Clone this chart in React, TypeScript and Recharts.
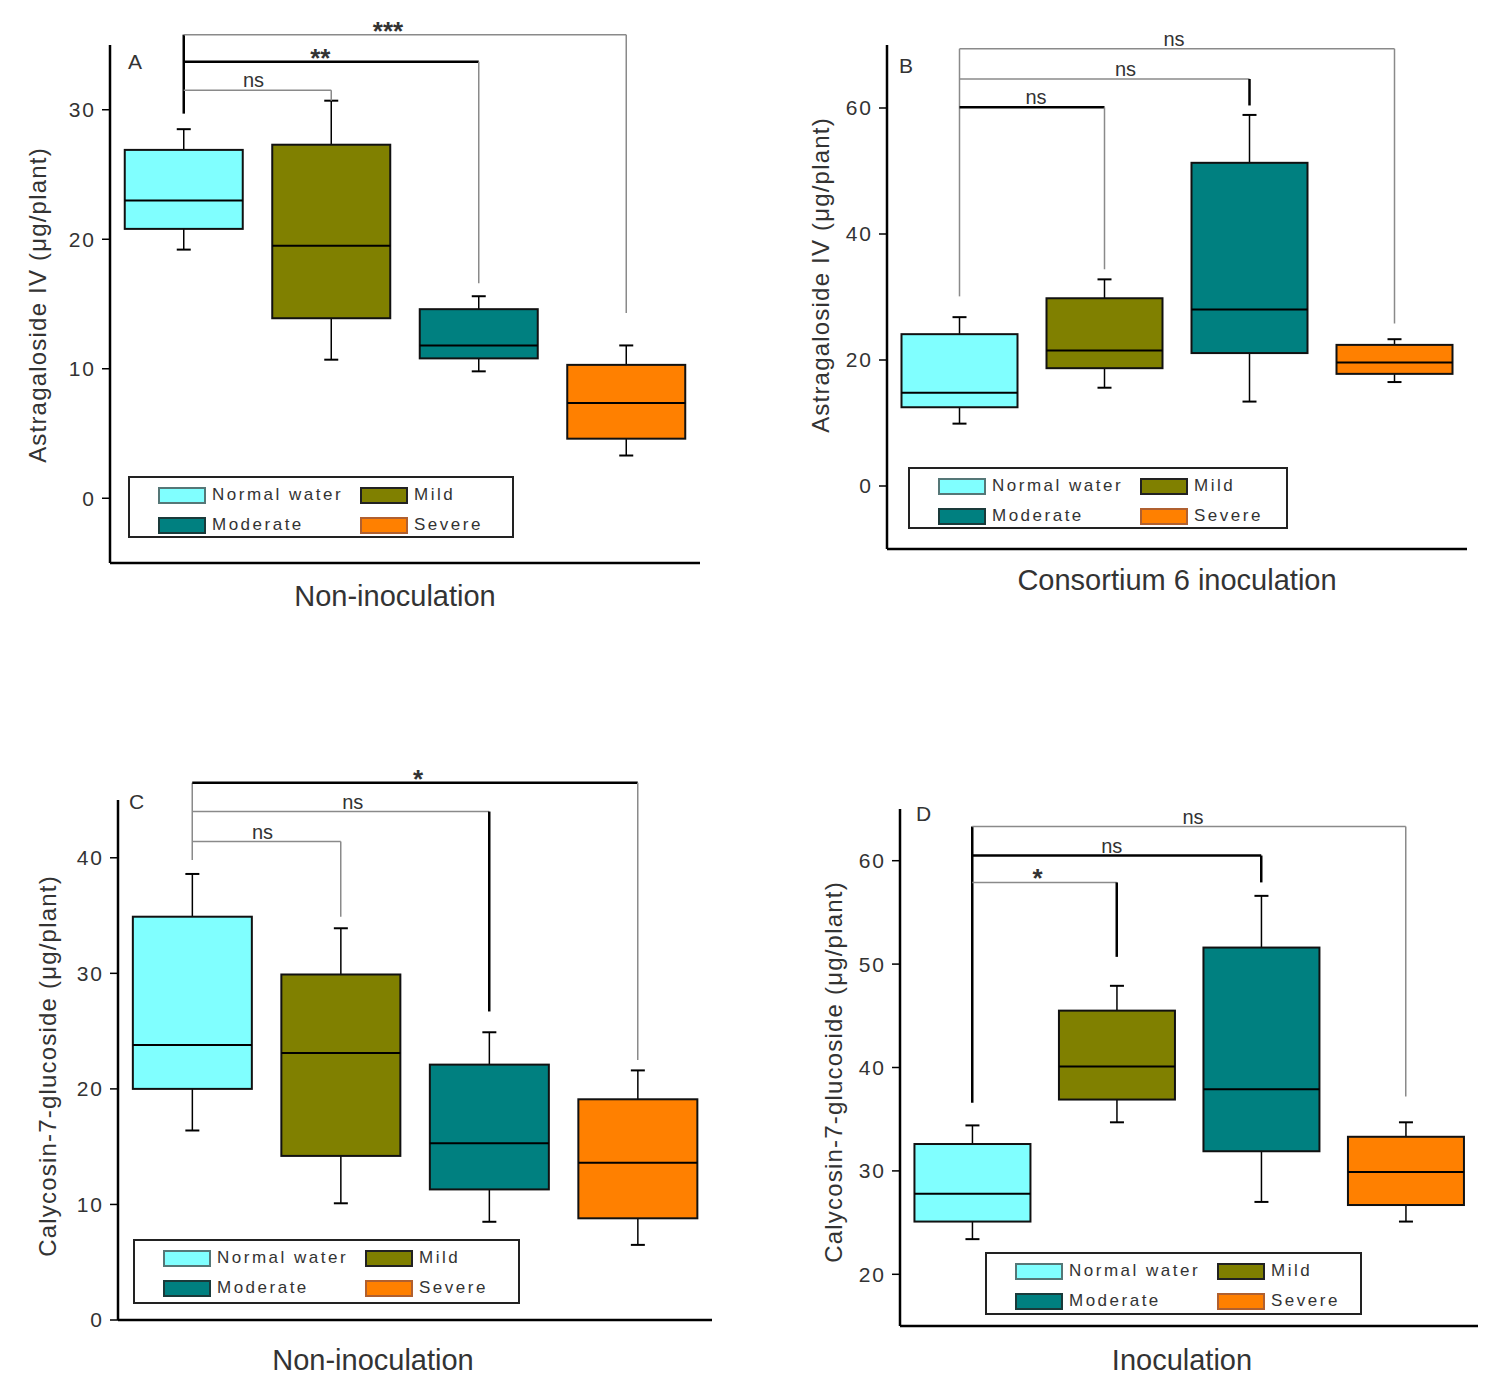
import React from 'react';
import { ComposedChart, Bar, XAxis, YAxis, ReferenceLine, Legend } from 'recharts';

const GROUPS = ['Normal water', 'Mild', 'Moderate', 'Severe'];
const FILLS = ['#80FFFF', '#808000', '#008080', '#FF8000'];
const SWATCH_EDGE = ['#557777', '#222222', '#1a3a3a', '#b06030'];

// [min, Q1, median, Q3, max] for each group
const astraNonInoc = [
  [19.2, 20.8, 23.0, 26.9, 28.5],
  [10.7, 13.9, 19.5, 27.3, 30.7],
  [9.8, 10.8, 11.8, 14.6, 15.6],
  [3.3, 4.6, 7.35, 10.3, 11.8],
];
const astraConsortium = [
  [9.9, 12.5, 14.8, 24.1, 26.8],
  [15.6, 18.7, 21.5, 29.8, 32.8],
  [13.4, 21.1, 28.0, 51.3, 58.9],
  [16.5, 17.8, 19.6, 22.4, 23.3],
];
const calyNonInoc = [
  [16.4, 20.0, 23.8, 34.9, 38.6],
  [10.1, 14.2, 23.1, 29.9, 33.9],
  [8.5, 11.3, 15.3, 22.1, 24.9],
  [6.5, 8.8, 13.6, 19.1, 21.6],
];
const calyInoc = [
  [23.4, 25.1, 27.8, 32.6, 34.4],
  [34.7, 36.9, 40.1, 45.5, 47.9],
  [27.0, 31.9, 37.9, 51.6, 56.6],
  [25.1, 26.7, 29.9, 33.3, 34.7],
];

// significance brackets from Normal water: [target group, bracket height, drop end, label]
const astraNonInocSig: [number, number, number, string][] = [[1, 31.5, 30.7, 'ns'], [2, 33.7, 16.6, '**'], [3, 35.8, 14.3, '***']];
const astraConsortiumSig: [number, number, number, string][] = [[1, 60.1, 34.4, 'ns'], [2, 64.6, 60.4, 'ns'], [3, 69.4, 25.8, 'ns']];
const calyNonInocSig: [number, number, number, string][] = [[1, 41.4, 34.9, 'ns'], [2, 44.0, 26.7, 'ns'], [3, 46.5, 22.5, '*']];
const calyInocSig: [number, number, number, string][] = [[1, 57.9, 50.7, '*'], [2, 60.5, 57.9, 'ns'], [3, 63.3, 37.2, 'ns']];
// lower end of the stem above Normal water
const sigStems = [29.7, 30.1, 39.8, 36.6];

const Y_W = 70;
const X_H = 40;
const FONT = '"Liberation Sans", Arial, sans-serif';
const BOLD = { stroke: '#000', strokeWidth: 2.5 };
const THIN = { stroke: '#8a8a8a', strokeWidth: 1.5 };

const PANELS = [
  {
    letter: 'A', stats: astraNonInoc, sig: astraNonInocSig, stem: sigStems[0],
    domain: [-5, 35], ticks: [0, 10, 20, 30],
    yTitle: 'Astragaloside IV (μg/plant)', xTitle: 'Non-inoculation',
    box: { left: 0, top: 0, w: 730, h: 630 }, plot: { l: 110, t: 45, r: 700, b: 563 },
    yt: [37, 305], xt: [395, 596], lg: { x: 128, y: 476, w: 386, h: 62 }, lt: [128, 51],
    stemBold: true, hBold: [false, true, false], dBold: [false, false, false], labelDx: [-4, -11, -17],
  },
  {
    letter: 'B', stats: astraConsortium, sig: astraConsortiumSig, stem: sigStems[1],
    domain: [-10, 70], ticks: [0, 20, 40, 60],
    yTitle: 'Astragaloside IV (μg/plant)', xTitle: 'Consortium 6 inoculation',
    box: { left: 760, top: 0, w: 729, h: 620 }, plot: { l: 887, t: 45, r: 1467, b: 549 },
    yt: [60, 275], xt: [417, 580], lg: { x: 148, y: 467, w: 380, h: 62 }, lt: [139, 55],
    stemBold: false, hBold: [true, false, false], dBold: [false, true, false], labelDx: [4, 21, -3],
  },
  {
    letter: 'C', stats: calyNonInoc, sig: calyNonInocSig, stem: sigStems[2],
    domain: [0, 45], ticks: [0, 10, 20, 30, 40],
    yTitle: 'Calycosin-7-glucoside (μg/plant)', xTitle: 'Non-inoculation',
    box: { left: 0, top: 740, w: 740, h: 645 }, plot: { l: 118, t: 800, r: 712, b: 1320 },
    yt: [47, 326], xt: [373, 620], lg: { x: 133, y: 499, w: 387, h: 65 }, lt: [129, 51],
    stemBold: false, hBold: [false, false, true], dBold: [false, true, false], labelDx: [-4, 12, 3],
  },
  {
    letter: 'D', stats: calyInoc, sig: calyInocSig, stem: sigStems[3],
    domain: [15, 65], ticks: [20, 30, 40, 50, 60],
    yTitle: 'Calycosin-7-glucoside (μg/plant)', xTitle: 'Inoculation',
    box: { left: 760, top: 760, w: 729, h: 625 }, plot: { l: 900, t: 809, r: 1478, b: 1326 },
    yt: [73, 312], xt: [422, 600], lg: { x: 225, y: 492, w: 377, h: 63 }, lt: [156, 43],
    stemBold: true, hBold: [false, true, false], dBold: [true, true, false], labelDx: [-7, -5, 4],
  },
];

// the bar spans min..max; the quartiles are placed inside it on the same linear scale
const BoxShape = (props: any) => {
  const { x, y, width, height, payload } = props;
  const [lo, q1, med, q3, hi] = payload.stats;
  const top = Math.min(y, y + height);
  const bot = Math.max(y, y + height);
  const py = (v: number) => bot - ((v - lo) / (hi - lo)) * (bot - top);
  const cx = x + width / 2;
  const cap = 7;
  return (
    <g>
      <line x1={cx} x2={cx} y1={py(hi)} y2={py(q3)} stroke="#000" strokeWidth={1.5} />
      <line x1={cx} x2={cx} y1={py(q1)} y2={py(lo)} stroke="#000" strokeWidth={1.5} />
      <line x1={cx - cap} x2={cx + cap} y1={py(hi)} y2={py(hi)} stroke="#000" strokeWidth={2} />
      <line x1={cx - cap} x2={cx + cap} y1={py(lo)} y2={py(lo)} stroke="#000" strokeWidth={2} />
      <rect x={x} y={py(q3)} width={width} height={py(q1) - py(q3)} fill={payload.fill} stroke="#111" strokeWidth={2} />
      <line x1={x} x2={x + width} y1={py(med)} y2={py(med)} stroke="#000" strokeWidth={2} />
    </g>
  );
};

const LegendBox = ({ w, h }: { w: number; h: number }) => (
  <div style={{ width: w, height: h, border: '2px solid #222', boxSizing: 'border-box', position: 'relative', background: '#fff', fontFamily: FONT }}>
    {GROUPS.map((g, i) => (
      <div key={g} style={{ position: 'absolute', left: i % 2 === 0 ? 28 : 230, top: i < 2 ? 8 : 38, display: 'flex', alignItems: 'center' }}>
        <div style={{ width: 48, height: 17, background: FILLS[i], border: `2px solid ${SWATCH_EDGE[i]}`, boxSizing: 'border-box' }} />
        <span style={{ marginLeft: 6, fontSize: 17, letterSpacing: 2.5, color: '#333', lineHeight: '18px' }}>{g}</span>
      </div>
    ))}
  </div>
);

const sigLabel = (text: string, dx: number) => {
  const star = text.includes('*');
  return {
    value: text,
    position: 'top' as const,
    offset: star ? -5 : 3,
    dx,
    fill: '#333',
    fontSize: star ? 26 : 20,
    fontWeight: star ? 'bold' : 'normal',
    fontFamily: FONT,
  };
};

const Panel = ({ cfg }: { cfg: any }) => {
  const data = GROUPS.map((g, i) => ({
    name: g,
    range: [cfg.stats[i][0], cfg.stats[i][4]],
    stats: cfg.stats[i],
    fill: FILLS[i],
  }));
  const { box, plot } = cfg;
  const margin = {
    left: plot.l - box.left - Y_W,
    top: plot.t - box.top,
    right: box.left + box.w - plot.r,
    bottom: box.top + box.h - plot.b - X_H,
  };
  const stemTop = Math.max(...cfg.sig.map((s: any) => s[1]));

  return (
    <div style={{ position: 'absolute', left: box.left, top: box.top }}>
      <ComposedChart width={box.w} height={box.h} data={data} margin={margin} barCategoryGap="10%">
        <XAxis
          dataKey="name"
          tick={false}
          tickLine={false}
          axisLine={{ stroke: '#000', strokeWidth: 2.5 }}
          height={X_H}
          label={() => (
            <text x={cfg.xt[0]} y={cfg.xt[1]} textAnchor="middle" dominantBaseline="central" fontSize={29} fill="#333" fontFamily={FONT}>
              {cfg.xTitle}
            </text>
          )}
        />
        <YAxis
          width={Y_W}
          domain={cfg.domain}
          ticks={cfg.ticks}
          allowDataOverflow
          axisLine={{ stroke: '#000', strokeWidth: 2.5 }}
          tickLine={{ stroke: '#000', strokeWidth: 1.5 }}
          tickSize={8}
          tickMargin={6}
          tick={{ fontSize: 21, fill: '#333', letterSpacing: 2, fontFamily: FONT }}
          label={() => (
            <text
              x={cfg.yt[0]}
              y={cfg.yt[1]}
              transform={`rotate(-90 ${cfg.yt[0]} ${cfg.yt[1]})`}
              textAnchor="middle"
              dominantBaseline="central"
              fontSize={24}
              letterSpacing={1.2}
              fill="#333"
              fontFamily={FONT}
            >
              {cfg.yTitle}
            </text>
          )}
        />
        <Bar dataKey="range" shape={BoxShape} isAnimationActive={false} />
        <ReferenceLine
          ifOverflow="visible"
          segment={[{ x: GROUPS[0], y: stemTop }, { x: GROUPS[0], y: cfg.stem }]}
          {...(cfg.stemBold ? BOLD : THIN)}
        />
        {cfg.sig.map((s: any, k: number) => (
          <ReferenceLine
            key={`h${k}`}
            ifOverflow="visible"
            segment={[{ x: GROUPS[0], y: s[1] }, { x: GROUPS[s[0]], y: s[1] }]}
            {...(cfg.hBold[k] ? BOLD : THIN)}
            label={sigLabel(s[3], cfg.labelDx[k])}
          />
        ))}
        {cfg.sig.map((s: any, k: number) => (
          <ReferenceLine
            key={`d${k}`}
            ifOverflow="visible"
            segment={[{ x: GROUPS[s[0]], y: s[1] }, { x: GROUPS[s[0]], y: s[2] }]}
            {...(cfg.dBold[k] ? BOLD : THIN)}
          />
        ))}
        <Legend
          layout="horizontal"
          verticalAlign="middle"
          align="center"
          wrapperStyle={{ left: cfg.lg.x, top: cfg.lg.y, width: cfg.lg.w, height: cfg.lg.h }}
          content={() => <LegendBox w={cfg.lg.w} h={cfg.lg.h} />}
        />
      </ComposedChart>
      <div style={{ position: 'absolute', left: cfg.lt[0], top: cfg.lt[1], fontSize: 21, color: '#333', fontFamily: FONT, lineHeight: '21px' }}>
        {cfg.letter}
      </div>
    </div>
  );
};

export default function App() {
  return (
    <div style={{ position: 'absolute', left: 0, top: 0, width: 1489, height: 1385, background: '#fff', fontFamily: FONT }}>
      {PANELS.map(p => <Panel key={p.letter} cfg={p} />)}
    </div>
  );
}
